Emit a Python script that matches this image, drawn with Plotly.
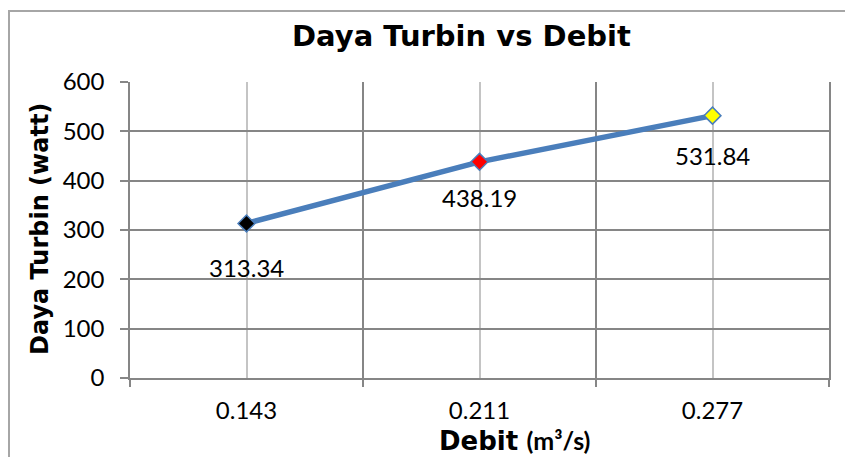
import plotly.graph_objects as go

categories = ["0.143", "0.211", "0.277"]
power = [313.34, 438.19, 531.84]
marker_colors = ["#000000", "#ff0000", "#ffff00"]
y_ticks = [0, 100, 200, 300, 400, 500, 600]
label_shift = [-44, -36, -40]

xs = list(range(len(categories)))
boundaries = [i - 0.5 for i in range(len(categories) + 1)]

# figure is placed by the page with an 8px body margin
W, H = 845, 449
L, T, R, B = 122, 74, 24, 79
PW, PH = W - L - R, H - T - B


def px(x):
    return (x - 8 - L) / PW


def py(y):
    return 1 - (y - 8 - T) / PH


fig = go.Figure()
fig.add_trace(go.Scatter(
    x=xs, y=power, mode="lines+markers",
    line=dict(color="#4a7ebb", width=5.5),
    marker=dict(symbol="diamond", size=13, color=marker_colors,
                line=dict(color="#4a7ebb", width=1.5)),
    hoverinfo="x+y", showlegend=False,
))

annotations = []
for x, v, s in zip(xs, power, label_shift):
    annotations.append(dict(x=x, y=v, xref="x", yref="y", text=f"{v:.2f}",
                            showarrow=False, yshift=s, xanchor="center", yanchor="middle",
                            font=dict(family="Lato", size=24, color="#000")))

annotations.append(dict(x=px(461.5), y=py(36), xref="paper", yref="paper",
                        xanchor="center", yanchor="middle",
                        text="<b>Daya Turbin vs Debit</b>", showarrow=False,
                        font=dict(family="DejaVu Sans", size=29, color="#000")))
annotations.append(dict(x=px(40), y=py(229), xref="paper", yref="paper",
                        xanchor="center", yanchor="middle",
                        text="<b>Daya Turbin (watt)</b>", textangle=-90, showarrow=False,
                        font=dict(family="DejaVu Sans", size=24, color="#000")))
annotations.append(dict(x=px(515), y=py(440), xref="paper", yref="paper",
                        xanchor="center", yanchor="middle",
                        text="<b>Debit</b> <span style='font-family:Lato;font-size:25px'><b>(m³/s)</b></span>",
                        showarrow=False,
                        font=dict(family="DejaVu Sans", size=26, color="#000")))

fig.update_layout(
    width=W, height=H,
    margin=dict(l=L, r=R, t=T, b=B),
    paper_bgcolor="white", plot_bgcolor="white",
    annotations=annotations,
    shapes=[dict(type="rect", xref="paper", yref="paper",
                 x0=px(9), x1=2, y0=-1, y1=py(11),
                 line=dict(color="#a6a6a6", width=2), layer="below")],
    xaxis=dict(
        range=[-0.5, len(categories) - 0.5],
        tickmode="array", tickvals=xs, ticktext=categories,
        showgrid=True, gridcolor="#c4c4c4", gridwidth=1.5,
        ticks="", ticklabelstandoff=10,
        tickfont=dict(family="Lato", size=24, color="#000"),
        showline=True, linecolor="#868686", linewidth=1.5,
        zeroline=False,
        minor=dict(tickmode="array", tickvals=boundaries, showgrid=True,
                   gridcolor="#868686", gridwidth=1.5,
                   ticks="outside", ticklen=7, tickcolor="#868686", tickwidth=1.5),
    ),
    yaxis=dict(
        range=[0, 600], tickmode="array", tickvals=y_ticks,
        showgrid=True, gridcolor="#868686", gridwidth=1.5,
        ticks="outside", ticklen=8, tickcolor="#868686", tickwidth=1.5,
        ticklabelstandoff=11,
        tickfont=dict(family="Lato", size=24, color="#000"),
        showline=True, linecolor="#868686", linewidth=1.5, mirror=True,
        zeroline=False,
    ),
)

fig.write_html("out.html")
